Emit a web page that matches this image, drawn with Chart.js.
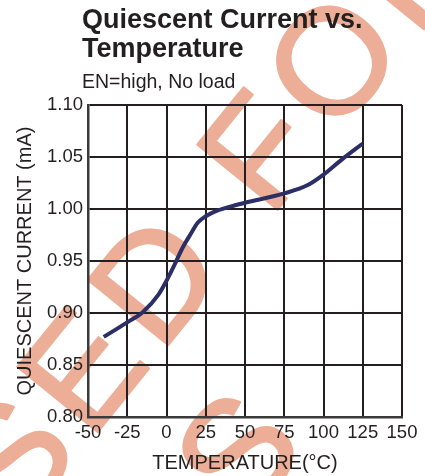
<!DOCTYPE html>
<html>
<head>
<meta charset="utf-8">
<script src="https://cdn.jsdelivr.net/npm/chart.js@4.4.1/dist/chart.umd.min.js"></script>
<style>
  html, body { margin: 0; padding: 0; background: #fff; }
  canvas { display: block; }
</style>
</head>
<body>
<canvas id="qChart" width="425" height="476"></canvas>
<script>
// values
const temperature = [-40, -25, -15, -5, 0, 5, 10, 15, 20, 25, 30, 40, 50, 75, 90, 100, 112, 125];
const currentMA = [0.877, 0.891, 0.901, 0.918, 0.931, 0.946, 0.962, 0.975, 0.987, 0.993, 0.997, 1.002, 1.006, 1.015, 1.023, 1.033, 1.048, 1.063];
const xTicks = [-50, -25, 0, 25, 50, 75, 100, 125, 150];
const yTicks = [0.80, 0.85, 0.90, 0.95, 1.00, 1.05, 1.10];

const FONT = '"Liberation Sans", Arial, sans-serif';
const INK = '#231f20';

// salmon watermark behind everything
const watermark = {
    id: 'watermark',
    beforeDraw(chart) {
        const ctx = chart.ctx;
        ctx.save();
        ctx.translate(270, 219);
        ctx.rotate(-51 * Math.PI / 180);
        ctx.font = '150px ' + FONT;
        ctx.letterSpacing = '12px';
        ctx.fillStyle = '#edae98';
        ctx.strokeStyle = '#edae98';
        ctx.lineWidth = 2.5;
        ctx.lineJoin = 'round';
        const line1 = 'NOT TO BE USED FOR NEW';
        const w1 = ctx.measureText('NOT TO BE USED ').width;
        ctx.fillText(line1, -w1, 0);
        ctx.strokeText(line1, -w1, 0);
        const line2 = 'DESIGNS';
        const w2 = ctx.measureText('DESIGN').width;
        ctx.fillText(line2, -252 - w2, 173);
        ctx.strokeText(line2, -252 - w2, 173);
        ctx.restore();
    }
};

// heading block, left aligned near the plot
const heading = {
    id: 'heading',
    afterDraw(chart) {
        const ctx = chart.ctx;
        ctx.save();
        ctx.fillStyle = INK;
        ctx.textAlign = 'left';
        ctx.textBaseline = 'alphabetic';
        ctx.font = 'bold 27px ' + FONT;
        ctx.fillText('Quiescent Current vs.', 82, 28);
        ctx.fillText('Temperature', 82, 57);
        ctx.font = '19.5px ' + FONT;
        ctx.fillText('EN=high, No load', 82, 88);
        ctx.restore();
    }
};

new Chart(document.getElementById('qChart'), {
    type: 'line',
    data: {
        datasets: [{
            data: temperature.map((t, i) => ({ x: t, y: currentMA[i] })),
            borderColor: '#2b2f66',
            borderWidth: 4,
            pointRadius: 0,
            fill: false,
            cubicInterpolationMode: 'monotone'
        }]
    },
    options: {
        responsive: false,
        animation: false,
        devicePixelRatio: 1,
        layout: { padding: { top: 105, right: 23, left: 0, bottom: 0 } },
        plugins: { legend: { display: false }, tooltip: { enabled: false } },
        scales: {
            x: {
                type: 'linear',
                min: -50,
                max: 150,
                afterBuildTicks: s => { s.ticks = xTicks.map(v => ({ value: v })); },
                afterFit: s => { s.height = 59; },
                ticks: { color: INK, font: { family: FONT, size: 18.5 }, padding: 5, maxRotation: 0, autoSkip: false },
                grid: { color: INK, lineWidth: 2, drawTicks: false },
                border: { display: true, color: '#3a3a3a', width: 2.5 },
                title: {
                    display: true,
                    text: 'TEMPERATURE(°C)',
                    color: INK,
                    font: { family: FONT, size: 20 },
                    padding: { top: 0, bottom: 1 }
                }
            },
            y: {
                min: 0.8,
                max: 1.1,
                afterBuildTicks: s => { s.ticks = yTicks.map(v => ({ value: v })); },
                afterFit: s => { s.width = 88; },
                ticks: { color: INK, font: { family: FONT, size: 18.5 }, padding: 5, callback: v => v.toFixed(2) },
                grid: { color: INK, lineWidth: 2, drawTicks: false },
                border: { display: true, color: '#3a3a3a', width: 2.5 },
                title: {
                    display: true,
                    text: 'QUIESCENT CURRENT (mA)',
                    color: INK,
                    font: { family: FONT, size: 20 },
                    padding: { top: 13, bottom: 0 }
                }
            }
        }
    },
    plugins: [watermark, heading]
});
</script>
</body>
</html>
